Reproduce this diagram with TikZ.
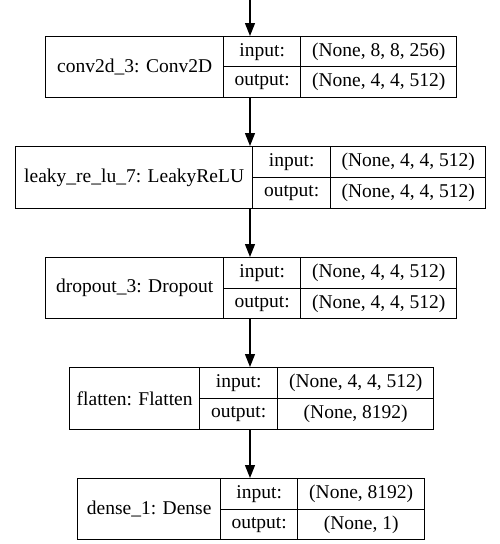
\documentclass[tikz,border=0pt]{standalone}
\usepackage{fontspec}
\setmainfont{Liberation Serif}
\usetikzlibrary{arrows.meta}
\tikzset{
  cell/.style={draw, line width=1.33pt, rectangle, inner sep=0pt, anchor=north west,
    font=\fontsize{19.5}{22}\selectfont},
  flow/.style={line width=1.33pt, -{Triangle[length=13pt, width=10pt]}},
}
% one layer record: name | input:/output: labels
% #1 prefix, #2 x0, #3 x1, #4 x2, #6 y0, #7 ymid, #8 y1, #9 layer name
\newcommand{\layerrec}[9]{%
  \node[cell, minimum width=#3-#2, minimum height=#8-#6] (#1name) at (#2,#6) {#9};
  \node[cell, minimum width=#4-#3, minimum height=#7-#6] (#1il) at (#3,#6) {input:};
  \node[cell, minimum width=#4-#3, minimum height=#8-#7] (#1ol) at (#3,#7) {output:};
}
\begin{document}
\begin{tikzpicture}[x=1pt, y=-1pt]
\useasboundingbox (0,0) rectangle (499,544);
\coordinate (stem) at (250,0);

\layerrec{a}{45}{223}{300}{456}{36}{66}{97}{conv2d\_3: Conv2D}
\node[cell, minimum width=156, minimum height=30] (aiv) at (300,36) {(None, 8, 8, 256)};
\node[cell, minimum width=156, minimum height=31] (aov) at (300,66) {(None, 4, 4, 512)};

\layerrec{b}{15}{252}{330}{485}{146}{177}{208}{leaky\_re\_lu\_7: LeakyReLU}
\node[cell, minimum width=155, minimum height=31] (biv) at (330,146) {(None, 4, 4, 512)};
\node[cell, minimum width=155, minimum height=31] (bov) at (330,177) {(None, 4, 4, 512)};

\layerrec{c}{45}{223}{300}{456}{257}{288}{318}{dropout\_3: Dropout}
\node[cell, minimum width=156, minimum height=31] (civ) at (300,257) {(None, 4, 4, 512)};
\node[cell, minimum width=156, minimum height=30] (cov) at (300,288) {(None, 4, 4, 512)};

\layerrec{d}{69}{199}{277}{433}{367}{398}{429}{flatten: Flatten}
\node[cell, minimum width=156, minimum height=31] (div) at (277,367) {(None, 4, 4, 512)};
\node[cell, minimum width=156, minimum height=31] (dov) at (277,398) {(None, 8192)};

\layerrec{e}{77}{220}{297}{424}{478}{509}{539}{dense\_1: Dense}
\node[cell, minimum width=127, minimum height=31] (eiv) at (297,478) {(None, 8192)};
\node[cell, minimum width=127, minimum height=30] (eov) at (297,509) {(None, 1)};

\draw[flow] (stem) -- (stem |- aname.north);
\draw[flow] (stem |- aname.south) -- (stem |- bname.north);
\draw[flow] (stem |- bname.south) -- (stem |- cname.north);
\draw[flow] (stem |- cname.south) -- (stem |- dname.north);
\draw[flow] (stem |- dname.south) -- (stem |- ename.north);
\end{tikzpicture}
\end{document}
